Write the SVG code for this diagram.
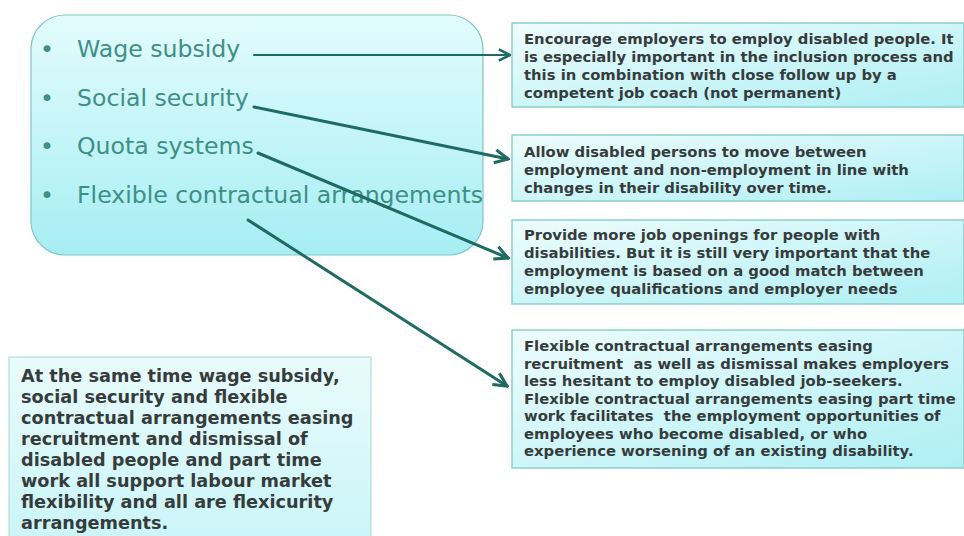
<svg xmlns="http://www.w3.org/2000/svg" width="964" height="536" viewBox="0 0 964 536">
<defs>
<linearGradient id="gMain" x1="0" y1="0" x2="0" y2="1">
<stop offset="0" stop-color="#e3fcfd"/>
<stop offset="1" stop-color="#a6eef3"/>
</linearGradient>
<linearGradient id="gBox" x1="0" y1="0" x2="1" y2="1">
<stop offset="0" stop-color="#eefcfd"/>
<stop offset="1" stop-color="#aeeff4"/>
</linearGradient>
<linearGradient id="gNote" x1="0" y1="0" x2="0" y2="1">
<stop offset="0" stop-color="#e9fbfc"/>
<stop offset="1" stop-color="#c9f5f8"/>
</linearGradient>
<marker id="ah" viewBox="0 0 10 10" refX="9" refY="5" markerWidth="7" markerHeight="7" markerUnits="strokeWidth" orient="auto">
<path d="M1,1 L9,5 L1,9" fill="none" stroke="#1f6b64" stroke-width="1.8"/>
</marker>
<marker id="ah2" viewBox="0 0 10 10" refX="9" refY="5" markerWidth="5.5" markerHeight="5.5" markerUnits="strokeWidth" orient="auto">
<path d="M1,1 L9,5 L1,9" fill="none" stroke="#1f6b64" stroke-width="1.9"/>
</marker>
</defs>
<style>
.box{fill:url(#gBox);stroke:#8ccfc9;stroke-width:1.5}
.bul{font-family:"DejaVu Sans",Verdana,sans-serif;font-size:23.6px;fill:#3f8f86}
.bt{font-family:"DejaVu Sans",Verdana,sans-serif;font-weight:bold;font-size:14.8px;fill:#363c3c}
.nt{font-family:"DejaVu Sans",Verdana,sans-serif;font-weight:bold;font-size:17.7px;fill:#363c3c}
.con{fill:none;stroke:#1f6b64;stroke-linecap:round}
</style>
<rect width="964" height="536" fill="#ffffff"/>

<g id="measures">
<rect x="31" y="15" width="452" height="240" rx="34" ry="34" fill="url(#gMain)" stroke="#80c7c1" stroke-width="1.2"/>
<g class="bul">
<text x="40" y="57">•</text><text x="77" y="57">Wage subsidy</text>
<text x="40" y="106">•</text><text x="77" y="106">Social security</text>
<text x="40" y="154">•</text><text x="77" y="154">Quota systems</text>
<text x="40" y="203">•</text><text x="77" y="203">Flexible contractual arrangements</text>
</g>
</g>

<g id="box-wage">
<rect class="box" x="512" y="23" width="452" height="84"/>
<text class="bt" x="524" y="44">Encourage employers to employ disabled people. It</text>
<text class="bt" x="524" y="62">is especially important in the inclusion process and</text>
<text class="bt" x="524" y="80">this in combination with close follow up by a</text>
<text class="bt" x="524" y="98">competent job coach (not permanent)</text>
</g>

<g id="box-social">
<rect class="box" x="512" y="135" width="452" height="66"/>
<text class="bt" x="524" y="157">Allow disabled persons to move between</text>
<text class="bt" x="524" y="175">employment and non-employment in line with</text>
<text class="bt" x="524" y="193">changes in their disability over time.</text>
</g>

<g id="box-quota">
<rect class="box" x="512" y="220" width="452" height="84"/>
<text class="bt" x="524" y="240">Provide more job openings for people with</text>
<text class="bt" x="524" y="258">disabilities. But it is still very important that the</text>
<text class="bt" x="524" y="276">employment is based on a good match between</text>
<text class="bt" x="524" y="294">employee qualifications and employer needs</text>
</g>

<g id="box-flexible">
<rect class="box" x="512" y="330" width="452" height="138"/>
<text class="bt" x="524" y="351">Flexible contractual arrangements easing</text>
<text class="bt" x="524" y="368.5" xml:space="preserve">recruitment  as well as dismissal makes employers</text>
<text class="bt" x="524" y="386">less hesitant to employ disabled job-seekers.</text>
<text class="bt" x="524" y="403.5">Flexible contractual arrangements easing part time</text>
<text class="bt" x="524" y="421" xml:space="preserve">work facilitates  the employment opportunities of</text>
<text class="bt" x="524" y="438.5">employees who become disabled, or who</text>
<text class="bt" x="524" y="456">experience worsening of an existing disability.</text>
</g>

<g id="note">
<rect x="9" y="357" width="362" height="190" fill="url(#gNote)" stroke="#b8dcd8" stroke-width="1.2"/>
<text class="nt" x="21" y="382">At the same time wage subsidy,</text>
<text class="nt" x="21" y="403">social security and flexible</text>
<text class="nt" x="21" y="424">contractual arrangements easing</text>
<text class="nt" x="21" y="445">recruitment and dismissal of</text>
<text class="nt" x="21" y="466">disabled people and part time</text>
<text class="nt" x="21" y="487">work all support labour market</text>
<text class="nt" x="21" y="508">flexibility and all are flexicurity</text>
<text class="nt" x="21" y="529">arrangements.</text>
</g>

<g id="connectors">
<line class="con" x1="254" y1="55" x2="510" y2="55" stroke-width="2" marker-end="url(#ah)"/>
<line class="con" x1="254" y1="107" x2="508" y2="159" stroke-width="3" marker-end="url(#ah2)"/>
<line class="con" x1="258" y1="153" x2="508" y2="258" stroke-width="3" marker-end="url(#ah2)"/>
<line class="con" x1="248" y1="220" x2="507" y2="386" stroke-width="3" marker-end="url(#ah2)"/>
</g>
</svg>
